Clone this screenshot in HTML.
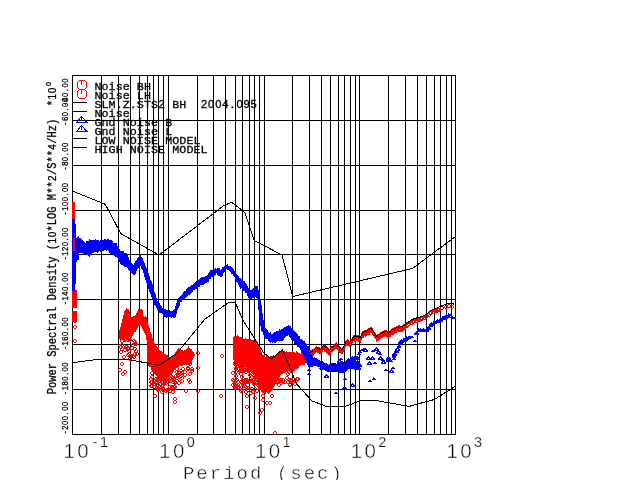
<!DOCTYPE html>
<html><head><meta charset="utf-8"><title>Noise spectra</title>
<style>html,body{margin:0;padding:0;background:#fff;overflow:hidden}svg{display:block}</style></head>
<body>
<svg width="640" height="480" viewBox="0 0 640 480" shape-rendering="crispEdges">
<rect x="0" y="0" width="640" height="480" fill="#fff"/>
<path d="M72.5 75V435M101.5 75V435M118.5 75V435M130.5 75V435M139.5 75V435M147.5 75V435M153.5 75V435M158.5 75V435M163.5 75V435M168.5 75V435M197.5 75V435M213.5 75V435M225.5 75V435M235.5 75V435M242.5 75V435M249.5 75V435M254.5 75V435M259.5 75V435M264.5 75V435M292.5 75V435M309.5 75V435M321.5 75V435M330.5 75V435M338.5 75V435M344.5 75V435M350.5 75V435M355.5 75V435M359.5 75V435M388.5 75V435M405.5 75V435M417.5 75V435M426.5 75V435M434.5 75V435M440.5 75V435M446.5 75V435M451.5 75V435M455.5 75V435M72 75.5H456M72 120.5H456M72 165.5H456M72 210.5H456M72 254.5H456M72 299.5H456M72 344.5H456M72 389.5H456M72 434.5H456" stroke="#000" stroke-width="1" fill="none"/>
<defs><path id="c" d="M-1 -2h2v1h1v2h-1v1h-2v-1h-1v-2h1z M-1 -1v2h2v-2z" fill="#ff0000" fill-rule="evenodd"/><path id="t" d="M0 -2h1v1h1v1h1v2h-5v-2h1v-1h1z M0 0v1h1v-1z" fill="#0000ff" fill-rule="evenodd"/><path id="u" d="M0 -2h1v1h1v1h1v1h-4v-1h1v-1h1z" fill="#0000ff"/></defs>
<g><rect x="72" y="202" width="3" height="18" fill="#ff0000"/><rect x="72" y="290" width="5" height="18" fill="#ff0000"/><rect x="72" y="311" width="5" height="11" fill="#ff0000"/><use href="#c" x="74.5" y="321.0"/><use href="#c" x="74.5" y="327.0"/><use href="#c" x="74.5" y="340.5"/><path d="M119 330h1v8h-1zM120 327h1v11h-1zM121 323h1v16h-1zM122 319h1v18h-1zM123 315h1v23h-1zM124 311h1v27h-1zM125 310h1v28h-1zM126 308h1v30h-1zM127 309h1v29h-1zM128 309h1v29h-1zM129 311h1v26h-1zM130 316h1v22h-1zM131 317h1v21h-1zM132 317h1v19h-1zM133 316h1v18h-1zM134 316h1v16h-1zM135 315h1v17h-1zM136 313h1v17h-1zM137 311h1v17h-1zM138 309h1v17h-1zM139 309h1v17h-1z" fill="#ff0000"/><path d="M139 309h1v14h-1zM140 309h1v16h-1zM141 309h1v18h-1zM142 310h1v19h-1zM143 316h1v15h-1zM144 317h1v16h-1zM145 316h1v19h-1zM146 317h1v23h-1zM147 321h1v43h-1zM148 325h1v40h-1zM149 328h1v38h-1zM150 332h1v35h-1zM151 334h1v36h-1zM152 338h1v32h-1zM153 340h1v32h-1zM154 343h1v31h-1zM155 345h1v30h-1zM156 346h1v30h-1zM157 347h1v30h-1zM158 347h1v31h-1zM159 350h1v29h-1zM160 351h1v29h-1zM161 351h1v29h-1zM162 352h1v29h-1zM163 353h1v29h-1zM164 354h1v26h-1zM165 354h1v27h-1zM166 355h1v24h-1zM167 355h1v23h-1zM168 357h1v22h-1zM169 357h1v20h-1zM170 357h1v18h-1zM171 356h1v19h-1zM172 355h1v18h-1zM173 356h1v16h-1zM174 354h1v16h-1zM175 352h1v16h-1zM176 351h1v17h-1zM177 349h1v17h-1zM178 348h1v18h-1zM179 349h1v16h-1zM180 350h1v16h-1zM181 350h1v16h-1zM182 350h1v16h-1zM183 351h1v14h-1zM184 350h1v15h-1zM185 350h1v15h-1zM186 349h1v16h-1zM187 348h1v17h-1zM188 346h1v19h-1zM189 348h1v15h-1zM190 349h1v14h-1zM191 349h1v13h-1zM192 351h1v9h-1zM193 352h1v6h-1z" fill="#ff0000"/><use href="#c" x="129.4" y="350.7"/><use href="#c" x="122.1" y="338.2"/><use href="#c" x="127.8" y="349.2"/><use href="#c" x="131.5" y="347.8"/><use href="#c" x="129.5" y="339.5"/><use href="#c" x="124.8" y="350.3"/><use href="#c" x="125.2" y="338.5"/><use href="#c" x="135.3" y="354.1"/><use href="#c" x="121.6" y="349.3"/><use href="#c" x="126.1" y="338.6"/><use href="#c" x="128.0" y="339.7"/><use href="#c" x="127.8" y="354.5"/><use href="#c" x="124.8" y="339.9"/><use href="#c" x="123.5" y="338.0"/><use href="#c" x="121.5" y="345.1"/><use href="#c" x="125.8" y="347.3"/><use href="#c" x="124.1" y="357.3"/><use href="#c" x="128.1" y="347.9"/><use href="#c" x="121.2" y="338.0"/><use href="#c" x="121.7" y="336.2"/><use href="#c" x="129.2" y="350.7"/><use href="#c" x="131.2" y="355.8"/><use href="#c" x="126.2" y="346.8"/><use href="#c" x="136.5" y="354.3"/><use href="#c" x="133.4" y="345.1"/><use href="#c" x="123.7" y="337.4"/><use href="#c" x="135.2" y="349.0"/><use href="#c" x="136.3" y="343.9"/><use href="#c" x="135.2" y="341.5"/><use href="#c" x="122.4" y="340.8"/><use href="#c" x="133.6" y="357.3"/><use href="#c" x="136.4" y="350.5"/><use href="#c" x="134.4" y="340.9"/><use href="#c" x="127.3" y="346.5"/><use href="#c" x="120.9" y="351.6"/><use href="#c" x="128.5" y="353.7"/><use href="#c" x="135.0" y="344.1"/><use href="#c" x="121.3" y="346.5"/><use href="#c" x="157.9" y="378.5"/><use href="#c" x="171.4" y="380.5"/><use href="#c" x="176.7" y="371.8"/><use href="#c" x="176.6" y="365.6"/><use href="#c" x="161.8" y="386.4"/><use href="#c" x="156.6" y="372.6"/><use href="#c" x="160.4" y="381.1"/><use href="#c" x="150.0" y="358.1"/><use href="#c" x="169.8" y="372.5"/><use href="#c" x="179.2" y="383.4"/><use href="#c" x="174.9" y="381.8"/><use href="#c" x="166.8" y="371.2"/><use href="#c" x="168.9" y="377.1"/><use href="#c" x="175.7" y="365.9"/><use href="#c" x="159.8" y="386.8"/><use href="#c" x="161.4" y="379.7"/><use href="#c" x="190.2" y="363.8"/><use href="#c" x="156.2" y="383.1"/><use href="#c" x="174.4" y="379.8"/><use href="#c" x="151.8" y="372.5"/><use href="#c" x="150.2" y="365.4"/><use href="#c" x="180.4" y="358.9"/><use href="#c" x="162.7" y="389.8"/><use href="#c" x="191.8" y="371.0"/><use href="#c" x="181.6" y="377.7"/><use href="#c" x="170.0" y="387.0"/><use href="#c" x="157.4" y="386.4"/><use href="#c" x="151.8" y="386.0"/><use href="#c" x="179.1" y="372.3"/><use href="#c" x="178.9" y="372.9"/><use href="#c" x="183.5" y="359.8"/><use href="#c" x="171.9" y="387.0"/><use href="#c" x="189.9" y="361.9"/><use href="#c" x="160.8" y="388.3"/><use href="#c" x="164.9" y="372.1"/><use href="#c" x="180.7" y="370.5"/><use href="#c" x="181.6" y="372.5"/><use href="#c" x="171.5" y="376.7"/><use href="#c" x="162.5" y="388.2"/><use href="#c" x="178.8" y="383.3"/><use href="#c" x="188.5" y="363.3"/><use href="#c" x="171.8" y="380.0"/><use href="#c" x="154.9" y="384.0"/><use href="#c" x="157.4" y="380.2"/><use href="#c" x="155.4" y="367.5"/><use href="#c" x="176.2" y="375.5"/><use href="#c" x="179.0" y="383.3"/><use href="#c" x="192.3" y="356.3"/><use href="#c" x="177.1" y="377.5"/><use href="#c" x="178.0" y="376.0"/><use href="#c" x="174.0" y="386.6"/><use href="#c" x="169.4" y="380.3"/><use href="#c" x="179.7" y="360.3"/><use href="#c" x="168.6" y="371.7"/><use href="#c" x="155.9" y="366.5"/><use href="#c" x="159.0" y="375.5"/><use href="#c" x="172.2" y="379.8"/><use href="#c" x="185.4" y="372.2"/><use href="#c" x="188.3" y="368.5"/><use href="#c" x="182.0" y="375.0"/><use href="#c" x="176.8" y="368.7"/><use href="#c" x="190.3" y="381.7"/><use href="#c" x="156.3" y="379.4"/><use href="#c" x="192.8" y="354.9"/><use href="#c" x="163.0" y="385.3"/><use href="#c" x="151.7" y="382.3"/><use href="#c" x="174.7" y="382.9"/><use href="#c" x="173.7" y="388.5"/><use href="#c" x="164.9" y="381.9"/><use href="#c" x="152.2" y="376.8"/><use href="#c" x="168.0" y="389.7"/><use href="#c" x="190.7" y="358.7"/><use href="#c" x="151.8" y="363.5"/><use href="#c" x="158.3" y="384.6"/><use href="#c" x="173.4" y="378.3"/><use href="#c" x="170.0" y="369.2"/><use href="#c" x="166.9" y="390.0"/><use href="#c" x="185.3" y="375.2"/><use href="#c" x="158.4" y="388.5"/><use href="#c" x="168.2" y="382.3"/><use href="#c" x="158.7" y="377.2"/><use href="#c" x="164.8" y="378.5"/><use href="#c" x="151.0" y="379.3"/><use href="#c" x="157.3" y="381.5"/><use href="#c" x="176.6" y="381.2"/><use href="#c" x="162.6" y="377.2"/><use href="#c" x="182.5" y="369.3"/><use href="#c" x="156.6" y="387.9"/><use href="#c" x="150.6" y="386.4"/><use href="#c" x="162.6" y="378.9"/><use href="#c" x="192.1" y="369.3"/><use href="#c" x="180.8" y="370.5"/><use href="#c" x="189.3" y="379.9"/><use href="#c" x="170.7" y="370.0"/><use href="#c" x="165.6" y="380.2"/><use href="#c" x="162.2" y="381.7"/><use href="#c" x="159.0" y="380.6"/><use href="#c" x="172.7" y="382.1"/><use href="#c" x="182.1" y="380.9"/><use href="#c" x="168.2" y="379.0"/><use href="#c" x="187.6" y="367.5"/><use href="#c" x="189.8" y="373.8"/><use href="#c" x="163.1" y="383.1"/><use href="#c" x="179.4" y="374.7"/><use href="#c" x="164.7" y="379.7"/><use href="#c" x="153.5" y="370.6"/><use href="#c" x="156.2" y="382.3"/><use href="#c" x="191.2" y="359.3"/><use href="#c" x="151.2" y="382.0"/><use href="#c" x="165.2" y="380.6"/><use href="#c" x="152.6" y="366.3"/><use href="#c" x="179.9" y="377.0"/><use href="#c" x="165.5" y="382.7"/><use href="#c" x="169.3" y="379.8"/><use href="#c" x="166.8" y="389.6"/><use href="#c" x="176.8" y="365.0"/><use href="#c" x="121.7" y="364.0"/><use href="#c" x="120.0" y="370.0"/><use href="#c" x="125.0" y="372.0"/><use href="#c" x="122.5" y="374.0"/><use href="#c" x="133.4" y="355.6"/><use href="#c" x="129.5" y="359.0"/><use href="#c" x="154.5" y="387.0"/><use href="#c" x="155.0" y="395.5"/><use href="#c" x="157.6" y="390.0"/><use href="#c" x="161.5" y="392.0"/><use href="#c" x="166.0" y="391.0"/><use href="#c" x="170.0" y="391.0"/><use href="#c" x="172.5" y="391.5"/><use href="#c" x="175.0" y="387.0"/><use href="#c" x="175.0" y="398.6"/><use href="#c" x="175.0" y="401.7"/><use href="#c" x="185.8" y="390.8"/><use href="#c" x="197.5" y="390.8"/><use href="#c" x="197.5" y="352.5"/><use href="#c" x="197.5" y="368.0"/><use href="#c" x="221.0" y="395.6"/><path d="M233 337h1v23h-1zM234 336h1v25h-1zM235 336h1v25h-1zM236 336h1v25h-1zM237 335h1v27h-1zM238 336h1v27h-1zM239 337h1v28h-1zM240 337h1v28h-1zM241 337h1v28h-1zM242 338h1v29h-1zM243 339h1v28h-1zM244 339h1v29h-1zM245 338h1v29h-1zM246 339h1v29h-1zM247 339h1v30h-1zM248 339h1v32h-1zM249 339h1v31h-1zM250 339h1v32h-1zM251 340h1v32h-1zM252 340h1v32h-1zM253 340h1v33h-1zM254 341h1v32h-1zM255 341h1v34h-1zM256 341h1v35h-1zM257 342h1v41h-1zM258 344h1v46h-1zM259 346h1v44h-1zM260 348h1v42h-1zM261 352h1v40h-1zM262 355h1v38h-1zM263 355h1v38h-1zM264 355h1v38h-1zM265 357h1v37h-1zM266 356h1v36h-1zM267 356h1v37h-1zM268 356h1v38h-1zM269 357h1v36h-1zM270 356h1v36h-1zM271 356h1v35h-1zM272 356h1v34h-1zM273 355h1v33h-1zM274 356h1v30h-1zM275 355h1v29h-1zM276 354h1v26h-1zM277 353h1v26h-1zM278 353h1v24h-1zM279 352h1v25h-1zM280 351h1v24h-1zM281 351h1v23h-1zM282 351h1v23h-1zM283 351h1v22h-1zM284 351h1v22h-1zM285 352h1v20h-1zM286 351h1v21h-1zM287 352h1v21h-1zM288 352h1v19h-1zM289 352h1v19h-1zM290 352h1v20h-1zM291 352h1v20h-1zM292 351h1v21h-1zM293 352h1v19h-1zM294 352h1v19h-1zM295 353h1v16h-1zM296 351h1v18h-1zM297 352h1v17h-1zM298 353h1v15h-1zM299 353h1v13h-1zM300 354h1v12h-1zM301 352h1v13h-1zM302 354h1v11h-1zM303 354h1v11h-1zM304 354h1v11h-1zM305 355h1v8h-1zM306 355h1v6h-1z" fill="#ff0000"/><use href="#c" x="256.3" y="377.0"/><use href="#c" x="233.4" y="385.4"/><use href="#c" x="257.2" y="383.0"/><use href="#c" x="244.2" y="370.9"/><use href="#c" x="252.4" y="361.7"/><use href="#c" x="253.4" y="375.0"/><use href="#c" x="234.8" y="386.0"/><use href="#c" x="243.2" y="361.6"/><use href="#c" x="237.5" y="387.2"/><use href="#c" x="237.5" y="384.7"/><use href="#c" x="253.9" y="360.9"/><use href="#c" x="244.3" y="384.8"/><use href="#c" x="245.7" y="387.4"/><use href="#c" x="242.9" y="379.4"/><use href="#c" x="238.6" y="386.6"/><use href="#c" x="254.8" y="377.2"/><use href="#c" x="241.4" y="369.8"/><use href="#c" x="248.5" y="362.4"/><use href="#c" x="246.3" y="368.0"/><use href="#c" x="241.9" y="368.9"/><use href="#c" x="254.7" y="364.0"/><use href="#c" x="239.1" y="363.6"/><use href="#c" x="233.4" y="372.5"/><use href="#c" x="254.9" y="388.7"/><use href="#c" x="245.7" y="372.3"/><use href="#c" x="255.6" y="376.0"/><use href="#c" x="247.3" y="380.1"/><use href="#c" x="235.1" y="386.5"/><use href="#c" x="235.7" y="376.1"/><use href="#c" x="257.1" y="376.7"/><use href="#c" x="241.9" y="382.7"/><use href="#c" x="256.4" y="379.0"/><use href="#c" x="234.5" y="387.9"/><use href="#c" x="233.5" y="381.1"/><use href="#c" x="256.4" y="363.4"/><use href="#c" x="246.7" y="382.0"/><use href="#c" x="237.6" y="366.3"/><use href="#c" x="234.7" y="363.4"/><use href="#c" x="236.1" y="367.9"/><use href="#c" x="252.5" y="381.6"/><use href="#c" x="252.8" y="380.4"/><use href="#c" x="253.7" y="363.1"/><use href="#c" x="247.4" y="358.7"/><use href="#c" x="245.8" y="386.7"/><use href="#c" x="245.3" y="368.0"/><use href="#c" x="240.1" y="371.4"/><use href="#c" x="256.8" y="391.1"/><use href="#c" x="252.5" y="391.6"/><use href="#c" x="252.8" y="367.7"/><use href="#c" x="244.3" y="382.6"/><use href="#c" x="251.4" y="381.1"/><use href="#c" x="245.7" y="362.9"/><use href="#c" x="258.0" y="365.5"/><use href="#c" x="258.5" y="362.3"/><use href="#c" x="258.5" y="370.8"/><use href="#c" x="254.1" y="358.2"/><use href="#c" x="244.6" y="366.5"/><use href="#c" x="251.1" y="380.5"/><use href="#c" x="245.0" y="382.0"/><use href="#c" x="258.4" y="361.2"/><use href="#c" x="247.6" y="381.0"/><use href="#c" x="249.5" y="366.9"/><use href="#c" x="255.7" y="366.3"/><use href="#c" x="255.0" y="374.0"/><use href="#c" x="236.7" y="386.0"/><use href="#c" x="235.0" y="385.0"/><use href="#c" x="248.6" y="387.8"/><use href="#c" x="253.9" y="371.7"/><use href="#c" x="236.5" y="367.1"/><use href="#c" x="233.0" y="380.2"/><use href="#c" x="235.2" y="364.1"/><use href="#c" x="239.4" y="371.8"/><use href="#c" x="250.9" y="373.1"/><use href="#c" x="246.1" y="361.2"/><use href="#c" x="241.8" y="365.0"/><use href="#c" x="252.2" y="358.6"/><use href="#c" x="249.0" y="381.7"/><use href="#c" x="246.1" y="359.5"/><use href="#c" x="239.5" y="366.1"/><use href="#c" x="240.0" y="366.9"/><use href="#c" x="258.3" y="384.9"/><use href="#c" x="256.2" y="382.3"/><use href="#c" x="242.0" y="390.0"/><use href="#c" x="245.6" y="364.3"/><use href="#c" x="252.0" y="366.8"/><use href="#c" x="254.4" y="383.2"/><use href="#c" x="240.5" y="373.6"/><use href="#c" x="251.6" y="380.7"/><use href="#c" x="246.7" y="365.3"/><use href="#c" x="241.4" y="381.6"/><use href="#c" x="244.9" y="382.4"/><use href="#c" x="250.8" y="370.1"/><use href="#c" x="235.6" y="381.1"/><use href="#c" x="242.2" y="377.2"/><use href="#c" x="236.2" y="363.0"/><use href="#c" x="244.0" y="380.8"/><use href="#c" x="236.1" y="384.3"/><use href="#c" x="255.1" y="380.9"/><use href="#c" x="252.5" y="366.1"/><use href="#c" x="235.6" y="369.2"/><use href="#c" x="236.3" y="372.2"/><use href="#c" x="252.8" y="367.6"/><use href="#c" x="255.3" y="373.4"/><use href="#c" x="237.2" y="379.8"/><use href="#c" x="244.4" y="369.2"/><use href="#c" x="246.4" y="391.7"/><use href="#c" x="252.5" y="368.0"/><use href="#c" x="257.1" y="364.3"/><use href="#c" x="243.6" y="370.7"/><use href="#c" x="258.6" y="358.2"/><use href="#c" x="249.9" y="375.3"/><use href="#c" x="237.1" y="379.8"/><use href="#c" x="254.0" y="384.1"/><use href="#c" x="235.0" y="385.0"/><use href="#c" x="242.0" y="387.0"/><use href="#c" x="247.6" y="360.7"/><use href="#c" x="252.4" y="377.2"/><use href="#c" x="244.7" y="379.7"/><use href="#c" x="244.5" y="359.3"/><use href="#c" x="256.7" y="367.8"/><use href="#c" x="240.3" y="359.7"/><use href="#c" x="251.7" y="388.9"/><use href="#c" x="245.0" y="385.7"/><use href="#c" x="241.5" y="371.1"/><use href="#c" x="240.6" y="368.0"/><use href="#c" x="247.6" y="369.1"/><use href="#c" x="234.7" y="381.5"/><use href="#c" x="241.0" y="371.3"/><use href="#c" x="237.8" y="359.7"/><use href="#c" x="250.0" y="372.4"/><use href="#c" x="257.2" y="358.6"/><use href="#c" x="254.4" y="358.6"/><use href="#c" x="237.5" y="358.5"/><use href="#c" x="246.2" y="370.0"/><use href="#c" x="241.3" y="391.1"/><use href="#c" x="248.0" y="389.5"/><use href="#c" x="256.1" y="369.5"/><use href="#c" x="250.0" y="364.6"/><use href="#c" x="242.5" y="381.3"/><use href="#c" x="247.8" y="360.9"/><use href="#c" x="277.7" y="382.3"/><use href="#c" x="291.4" y="380.4"/><use href="#c" x="280.9" y="382.5"/><use href="#c" x="288.7" y="372.4"/><use href="#c" x="279.7" y="379.9"/><use href="#c" x="297.5" y="379.4"/><use href="#c" x="282.5" y="381.5"/><use href="#c" x="280.5" y="380.3"/><use href="#c" x="285.1" y="370.5"/><use href="#c" x="287.4" y="378.1"/><use href="#c" x="296.1" y="381.4"/><use href="#c" x="282.7" y="380.3"/><use href="#c" x="281.5" y="380.5"/><use href="#c" x="289.2" y="379.8"/><use href="#c" x="279.5" y="381.4"/><use href="#c" x="287.8" y="381.9"/><use href="#c" x="277.0" y="381.7"/><use href="#c" x="296.9" y="379.4"/><use href="#c" x="279.1" y="384.8"/><use href="#c" x="288.2" y="374.4"/><use href="#c" x="289.7" y="383.7"/><use href="#c" x="278.4" y="379.0"/><use href="#c" x="289.9" y="384.8"/><use href="#c" x="276.8" y="378.1"/><use href="#c" x="292.1" y="380.6"/><use href="#c" x="247.0" y="396.4"/><use href="#c" x="250.8" y="392.5"/><use href="#c" x="254.7" y="398.0"/><use href="#c" x="247.0" y="407.0"/><use href="#c" x="262.5" y="396.4"/><use href="#c" x="263.0" y="400.0"/><use href="#c" x="267.0" y="402.6"/><use href="#c" x="269.5" y="403.4"/><use href="#c" x="272.0" y="396.4"/><use href="#c" x="261.7" y="409.7"/><use href="#c" x="260.0" y="413.0"/><use href="#c" x="275.0" y="432.8"/><use href="#c" x="285.0" y="381.5"/><use href="#c" x="294.5" y="384.0"/><use href="#c" x="222.0" y="356.0"/></g>
<path d="M308 351h1v7h-1zM309 350h1v8h-1zM310 350h1v7h-1zM311 350h1v7h-1zM312 349h1v7h-1zM313 349h1v7h-1zM314 348h1v6h-1zM315 347h1v6h-1zM316 346h1v6h-1zM317 347h1v6h-1zM318 347h1v6h-1zM319 347h1v7h-1zM320 348h1v6h-1zM321 346h1v8h-1zM322 346h1v6h-1zM323 344h1v6h-1zM324 345h1v7h-1zM325 345h1v7h-1zM326 346h1v7h-1zM327 347h1v7h-1zM328 348h1v7h-1zM329 349h1v7h-1zM330 347h1v7h-1zM331 346h1v6h-1zM332 346h1v6h-1zM333 345h1v6h-1zM334 344h1v6h-1zM335 343h1v6h-1zM336 342h1v7h-1zM337 344h1v6h-1zM338 345h1v7h-1zM339 346h1v7h-1zM340 347h1v6h-1zM341 348h1v6h-1zM342 347h1v7h-1zM343 346h1v6h-1zM344 343h1v7h-1zM345 341h1v6h-1zM346 340h1v6h-1zM347 339h1v7h-1zM348 340h1v6h-1zM349 341h1v6h-1zM350 340h1v6h-1zM351 339h1v7h-1zM352 337h1v6h-1zM353 335h1v6h-1zM354 335h1v7h-1zM355 335h1v6h-1zM356 335h1v6h-1zM357 335h1v6h-1zM358 335h1v7h-1zM359 335h1v7h-1zM360 336h1v7h-1zM361 333h1v7h-1zM362 331h1v7h-1zM363 331h1v7h-1zM364 330h1v6h-1zM365 330h1v7h-1zM366 330h1v6h-1zM367 329h1v6h-1zM368 328h1v7h-1zM369 328h1v7h-1zM370 327h1v6h-1zM371 327h1v6h-1zM372 328h1v7h-1zM373 330h1v6h-1zM374 332h1v6h-1zM375 333h1v6h-1zM376 335h1v7h-1zM377 334h1v7h-1zM378 334h1v7h-1zM379 333h1v7h-1zM380 332h1v7h-1zM381 332h1v6h-1zM382 331h1v7h-1zM383 331h1v6h-1zM384 330h1v7h-1zM385 330h1v6h-1zM386 330h1v7h-1zM387 331h1v7h-1zM388 331h1v7h-1zM389 331h1v6h-1zM390 330h1v7h-1zM391 329h1v6h-1zM392 328h1v7h-1zM393 328h1v7h-1zM394 327h1v7h-1zM395 327h1v6h-1zM396 326h1v7h-1zM397 326h1v6h-1zM398 325h1v7h-1zM399 325h1v7h-1zM400 326h1v6h-1zM401 326h1v6h-1zM402 325h1v7h-1zM403 324h1v7h-1zM404 324h1v6h-1zM405 323h1v7h-1zM406 322h1v6h-1z" fill="#ff0000"/>
<use href="#c" x="404.0" y="327.9"/><use href="#c" x="405.3" y="326.9"/><use href="#c" x="406.6" y="325.9"/><use href="#c" x="407.9" y="325.0"/><use href="#c" x="409.2" y="324.0"/><use href="#c" x="410.5" y="323.1"/><use href="#c" x="411.8" y="322.5"/><use href="#c" x="413.1" y="321.8"/><use href="#c" x="414.4" y="321.3"/><use href="#c" x="415.7" y="321.0"/><use href="#c" x="417.0" y="320.6"/><use href="#c" x="418.3" y="320.3"/><use href="#c" x="419.6" y="319.8"/><use href="#c" x="420.9" y="319.4"/><use href="#c" x="422.2" y="318.9"/><use href="#c" x="423.5" y="318.3"/><use href="#c" x="424.8" y="317.7"/><use href="#c" x="426.1" y="317.1"/><use href="#c" x="427.4" y="315.8"/><use href="#c" x="428.7" y="314.6"/><use href="#c" x="430.0" y="313.4"/><use href="#c" x="431.3" y="312.9"/><use href="#c" x="432.6" y="312.4"/><use href="#c" x="433.9" y="311.8"/><use href="#c" x="435.2" y="311.3"/><use href="#c" x="436.5" y="310.8"/><use href="#c" x="437.8" y="310.3"/><use href="#c" x="439.1" y="309.8"/><use href="#c" x="442.4" y="308.3"/><use href="#c" x="445.7" y="306.9"/><use href="#c" x="449.0" y="305.9"/><use href="#c" x="452.3" y="306.6"/>
<polyline points="308.5,352.5 310.5,352.0 313.5,350.5 316.5,347.5 318.5,348.5 320.5,349.5 323.5,345.5 325.5,347.0 327.5,348.5 329.5,350.5 331.5,347.5 334.5,345.5 336.5,343.5 338.5,346.5 341.5,349.5 343.5,347.5 345.5,342.5 347.5,340.5 349.5,342.5 351.5,340.5 353.5,336.5 355.5,336.0 358.5,336.5 360.5,337.5 362.5,332.5 365.5,331.5 368.5,329.5 371.5,328.5 373.5,331.5 375.5,334.5 376.5,336.5 378.5,335.5 380.5,333.5 385.5,331.1 388.5,333.0 392.5,329.5 397.5,327.5 402.5,326.5 406.5,323.5 410.5,320.5 414.5,318.5 418.5,317.5 422.5,316.1 426.5,314.25 430.5,310.5 435.5,308.5 440.5,306.5 445.5,304.25 448.5,303.0 451.5,303.0 454.5,304.5" fill="none" stroke="#000" stroke-width="1"/>
<rect x="72" y="219" width="3" height="72" fill="#0000ff"/><rect x="75" y="224" width="1" height="60" fill="#0000ff"/>
<path d="M76 238h1v24h-1zM77 237h1v23h-1zM78 236h1v24h-1zM79 238h1v15h-1zM80 238h1v15h-1zM81 239h1v14h-1zM82 240h1v13h-1zM83 241h1v13h-1zM84 242h1v12h-1zM85 243h1v11h-1zM86 241h1v14h-1zM87 241h1v14h-1zM88 241h1v15h-1zM89 239h1v18h-1zM90 240h1v15h-1zM91 240h1v15h-1zM92 240h1v13h-1zM93 240h1v13h-1zM94 240h1v12h-1zM95 239h1v13h-1zM96 240h1v12h-1zM97 240h1v13h-1zM98 240h1v12h-1zM99 241h1v10h-1zM100 240h1v12h-1zM101 241h1v10h-1zM102 240h1v11h-1zM103 240h1v11h-1zM104 239h1v11h-1zM105 239h1v11h-1zM106 240h1v11h-1zM107 239h1v11h-1zM108 239h1v12h-1zM109 240h1v13h-1zM110 240h1v14h-1zM111 240h1v15h-1zM112 241h1v14h-1zM113 243h1v12h-1zM114 243h1v13h-1zM115 243h1v14h-1zM116 243h1v14h-1zM117 246h1v12h-1zM118 247h1v13h-1zM119 249h1v13h-1zM120 251h1v13h-1zM121 251h1v14h-1zM122 251h1v14h-1zM123 251h1v15h-1zM124 253h1v14h-1zM125 253h1v14h-1zM126 253h1v14h-1zM127 254h1v14h-1zM128 257h1v13h-1zM129 260h1v11h-1zM130 262h1v9h-1zM131 263h1v10h-1zM132 264h1v10h-1zM133 265h1v10h-1zM134 263h1v12h-1zM135 261h1v13h-1zM136 260h1v11h-1zM137 258h1v11h-1zM138 257h1v11h-1zM139 255h1v12h-1zM140 255h1v11h-1zM141 257h1v12h-1zM142 258h1v12h-1zM143 261h1v12h-1zM144 263h1v14h-1zM145 266h1v14h-1zM146 268h1v15h-1zM147 271h1v14h-1zM148 273h1v16h-1zM149 276h1v16h-1zM150 280h1v14h-1zM151 281h1v16h-1zM152 284h1v15h-1zM153 288h1v14h-1zM154 292h1v13h-1zM155 294h1v12h-1zM156 298h1v10h-1zM157 301h1v9h-1zM158 302h1v8h-1zM159 303h1v10h-1zM160 305h1v8h-1zM161 306h1v7h-1zM162 308h1v6h-1zM163 308h1v8h-1zM164 309h1v8h-1zM165 309h1v8h-1zM166 310h1v8h-1zM167 310h1v7h-1zM168 311h1v7h-1zM169 310h1v7h-1zM170 311h1v6h-1zM171 311h1v7h-1zM172 311h1v6h-1zM173 310h1v8h-1zM174 309h1v9h-1zM175 306h1v11h-1zM176 303h1v11h-1zM177 300h1v10h-1zM178 298h1v10h-1zM179 297h1v9h-1zM180 296h1v6h-1zM181 295h1v7h-1zM182 294h1v6h-1zM183 292h1v8h-1zM184 291h1v8h-1zM185 291h1v7h-1zM186 289h1v8h-1zM187 288h1v8h-1zM188 287h1v8h-1zM189 287h1v8h-1zM190 286h1v8h-1zM191 285h1v8h-1zM192 285h1v7h-1zM193 284h1v6h-1zM194 283h1v7h-1zM195 282h1v7h-1zM196 281h1v8h-1zM197 280h1v8h-1zM198 280h1v7h-1zM199 279h1v8h-1zM200 278h1v7h-1zM201 277h1v8h-1zM202 277h1v8h-1zM203 277h1v8h-1zM204 277h1v7h-1zM205 276h1v7h-1zM206 276h1v7h-1zM207 275h1v7h-1zM208 273h1v9h-1zM209 272h1v7h-1zM210 270h1v9h-1zM211 270h1v7h-1zM212 270h1v7h-1zM213 270h1v6h-1zM214 269h1v7h-1zM215 268h1v7h-1zM216 269h1v4h-1zM217 268h1v7h-1zM218 268h1v8h-1zM219 268h1v8h-1zM220 270h1v7h-1zM221 269h1v8h-1zM222 267h1v9h-1zM223 267h1v6h-1zM224 266h1v6h-1zM225 265h1v5h-1zM226 265h1v4h-1zM227 264h1v6h-1zM228 266h1v4h-1zM229 266h1v5h-1zM230 266h1v6h-1zM231 267h1v7h-1zM232 268h1v6h-1zM233 269h1v7h-1zM234 271h1v6h-1zM235 272h1v7h-1zM236 274h1v8h-1zM237 275h1v8h-1zM238 276h1v9h-1zM239 278h1v9h-1zM240 278h1v11h-1zM241 279h1v9h-1zM242 280h1v10h-1zM243 281h1v10h-1zM244 281h1v10h-1zM245 283h1v10h-1zM246 284h1v9h-1zM247 286h1v10h-1zM248 288h1v10h-1zM249 289h1v10h-1zM250 290h1v9h-1zM251 290h1v10h-1zM252 289h1v9h-1zM253 288h1v10h-1zM254 287h1v10h-1zM255 286h1v11h-1zM256 286h1v12h-1zM257 286h1v14h-1zM258 290h1v20h-1zM259 292h1v27h-1zM260 299h1v27h-1zM261 305h1v26h-1zM262 313h1v19h-1zM263 320h1v15h-1zM264 326h1v11h-1zM265 328h1v11h-1zM266 329h1v10h-1zM267 330h1v9h-1zM268 332h1v9h-1zM269 333h1v9h-1zM270 332h1v11h-1zM271 334h1v8h-1zM272 334h1v9h-1zM273 333h1v9h-1zM274 332h1v11h-1zM275 332h1v11h-1zM276 331h1v11h-1zM277 331h1v10h-1zM278 331h1v10h-1zM279 329h1v12h-1zM280 330h1v11h-1zM281 329h1v12h-1zM282 329h1v12h-1zM283 328h1v12h-1zM284 327h1v11h-1zM285 327h1v10h-1zM286 326h1v10h-1zM287 326h1v10h-1zM288 325h1v10h-1zM289 326h1v11h-1zM290 326h1v12h-1zM291 328h1v12h-1zM292 329h1v11h-1zM293 330h1v11h-1zM294 331h1v13h-1zM295 332h1v12h-1zM296 333h1v11h-1zM297 334h1v13h-1zM298 336h1v11h-1zM299 336h1v12h-1zM300 339h1v11h-1zM301 339h1v13h-1zM302 340h1v14h-1zM303 341h1v15h-1zM304 341h1v17h-1zM305 343h1v17h-1zM306 344h1v19h-1zM307 346h1v19h-1zM308 346h1v20h-1z" fill="#0000ff"/>
<rect x="73" y="238" width="2" height="13" fill="#ff0000"/>
<g><use href="#t" x="306.5" y="354.6"/><use href="#t" x="306.8" y="360.5"/><use href="#u" x="307.0" y="360.4"/><use href="#t" x="307.3" y="356.1"/><use href="#t" x="307.6" y="356.2"/><use href="#t" x="307.8" y="357.1"/><use href="#t" x="308.1" y="359.5"/><use href="#u" x="308.4" y="357.6"/><use href="#t" x="308.7" y="355.9"/><use href="#u" x="308.9" y="358.9"/><use href="#t" x="309.2" y="357.2"/><use href="#u" x="309.5" y="364.5"/><use href="#t" x="309.7" y="365.1"/><use href="#t" x="310.0" y="356.4"/><use href="#u" x="310.3" y="362.6"/><use href="#u" x="310.5" y="361.5"/><use href="#u" x="310.8" y="364.2"/><use href="#u" x="311.1" y="362.2"/><use href="#u" x="311.4" y="361.3"/><use href="#t" x="311.6" y="362.5"/><use href="#t" x="311.9" y="360.2"/><use href="#u" x="312.2" y="362.4"/><use href="#t" x="312.4" y="363.3"/><use href="#u" x="312.7" y="360.9"/><use href="#u" x="313.0" y="364.2"/><use href="#u" x="313.2" y="363.3"/><use href="#u" x="313.5" y="364.6"/><use href="#t" x="313.8" y="359.3"/><use href="#t" x="314.1" y="361.7"/><use href="#t" x="314.3" y="364.4"/><use href="#t" x="314.6" y="362.6"/><use href="#u" x="314.9" y="364.0"/><use href="#u" x="315.1" y="364.7"/><use href="#t" x="315.4" y="359.9"/><use href="#u" x="315.7" y="360.4"/><use href="#u" x="315.9" y="364.2"/><use href="#u" x="316.2" y="364.6"/><use href="#t" x="316.5" y="363.9"/><use href="#u" x="316.8" y="361.6"/><use href="#u" x="317.0" y="362.5"/><use href="#t" x="317.3" y="363.7"/><use href="#t" x="317.6" y="363.2"/><use href="#u" x="317.8" y="363.2"/><use href="#u" x="318.1" y="363.2"/><use href="#u" x="318.4" y="366.2"/><use href="#u" x="318.6" y="361.9"/><use href="#u" x="318.9" y="365.5"/><use href="#u" x="319.2" y="365.8"/><use href="#u" x="319.5" y="367.5"/><use href="#u" x="319.7" y="361.6"/><use href="#u" x="320.0" y="366.0"/><use href="#u" x="320.3" y="366.1"/><use href="#t" x="320.5" y="365.0"/><use href="#u" x="320.8" y="362.3"/><use href="#t" x="321.1" y="362.3"/><use href="#t" x="321.3" y="363.3"/><use href="#t" x="321.6" y="367.6"/><use href="#u" x="321.9" y="363.5"/><use href="#u" x="322.2" y="363.5"/><use href="#t" x="322.4" y="365.0"/><use href="#u" x="322.7" y="366.0"/><use href="#u" x="323.0" y="367.5"/><use href="#u" x="323.2" y="368.2"/><use href="#t" x="323.5" y="364.9"/><use href="#u" x="323.8" y="369.1"/><use href="#u" x="324.0" y="363.7"/><use href="#u" x="324.3" y="366.0"/><use href="#u" x="324.6" y="365.0"/><use href="#u" x="324.9" y="366.0"/><use href="#u" x="325.1" y="366.7"/><use href="#t" x="325.4" y="367.0"/><use href="#t" x="325.7" y="366.5"/><use href="#u" x="325.9" y="365.4"/><use href="#t" x="326.2" y="365.4"/><use href="#t" x="326.5" y="365.5"/><use href="#t" x="326.7" y="368.5"/><use href="#u" x="327.0" y="366.7"/><use href="#u" x="327.3" y="367.7"/><use href="#u" x="327.6" y="367.2"/><use href="#t" x="327.8" y="366.8"/><use href="#u" x="328.1" y="368.7"/><use href="#t" x="328.4" y="367.6"/><use href="#t" x="328.6" y="366.1"/><use href="#t" x="328.9" y="370.2"/><use href="#u" x="329.2" y="365.7"/><use href="#u" x="329.4" y="365.2"/><use href="#u" x="329.7" y="368.1"/><use href="#u" x="330.0" y="367.4"/><use href="#u" x="330.3" y="365.5"/><use href="#t" x="330.5" y="365.1"/><use href="#t" x="330.8" y="367.7"/><use href="#u" x="331.1" y="366.2"/><use href="#t" x="331.3" y="365.1"/><use href="#u" x="331.6" y="367.4"/><use href="#u" x="331.9" y="368.3"/><use href="#t" x="332.1" y="364.7"/><use href="#u" x="332.4" y="367.5"/><use href="#t" x="332.7" y="365.0"/><use href="#u" x="333.0" y="369.2"/><use href="#t" x="333.2" y="369.0"/><use href="#u" x="333.5" y="366.1"/><use href="#u" x="333.8" y="365.1"/><use href="#t" x="334.0" y="370.0"/><use href="#t" x="334.3" y="367.6"/><use href="#u" x="334.6" y="365.3"/><use href="#u" x="334.8" y="365.2"/><use href="#t" x="335.1" y="369.5"/><use href="#u" x="335.4" y="367.8"/><use href="#t" x="335.7" y="366.1"/><use href="#u" x="335.9" y="368.0"/><use href="#u" x="336.2" y="366.2"/><use href="#u" x="336.5" y="369.3"/><use href="#u" x="336.7" y="367.0"/><use href="#u" x="337.0" y="370.7"/><use href="#u" x="337.3" y="367.0"/><use href="#u" x="337.5" y="370.3"/><use href="#t" x="337.8" y="364.1"/><use href="#u" x="338.1" y="366.6"/><use href="#u" x="338.4" y="366.3"/><use href="#u" x="338.6" y="369.6"/><use href="#t" x="338.9" y="360.9"/><use href="#t" x="339.2" y="369.9"/><use href="#t" x="339.4" y="369.5"/><use href="#u" x="339.7" y="364.2"/><use href="#u" x="340.0" y="358.8"/><use href="#t" x="340.2" y="369.0"/><use href="#u" x="340.5" y="367.7"/><use href="#u" x="340.8" y="371.1"/><use href="#u" x="341.1" y="366.1"/><use href="#t" x="341.3" y="371.4"/><use href="#t" x="341.6" y="363.4"/><use href="#t" x="341.9" y="364.0"/><use href="#u" x="342.1" y="368.3"/><use href="#u" x="342.4" y="368.0"/><use href="#u" x="342.7" y="368.2"/><use href="#t" x="342.9" y="369.6"/><use href="#t" x="343.2" y="368.1"/><use href="#t" x="343.5" y="367.9"/><use href="#t" x="343.8" y="368.8"/><use href="#u" x="344.0" y="367.7"/><use href="#t" x="344.3" y="365.6"/><use href="#t" x="344.6" y="368.2"/><use href="#t" x="344.8" y="364.6"/><use href="#t" x="345.1" y="367.0"/><use href="#u" x="345.4" y="365.7"/><use href="#t" x="345.6" y="364.4"/><use href="#u" x="345.9" y="362.6"/><use href="#t" x="346.2" y="367.3"/><use href="#t" x="346.5" y="361.1"/><use href="#t" x="346.7" y="366.3"/><use href="#t" x="347.0" y="365.1"/><use href="#t" x="347.3" y="363.0"/><use href="#t" x="347.5" y="364.4"/><use href="#u" x="347.8" y="360.8"/><use href="#u" x="348.1" y="365.8"/><use href="#t" x="348.3" y="359.7"/><use href="#u" x="348.6" y="363.3"/><use href="#t" x="348.9" y="362.3"/><use href="#t" x="349.2" y="364.3"/><use href="#t" x="349.4" y="362.5"/><use href="#u" x="349.7" y="366.9"/><use href="#t" x="350.0" y="366.0"/><use href="#t" x="350.2" y="366.5"/><use href="#u" x="350.5" y="358.6"/><use href="#u" x="350.8" y="359.9"/><use href="#u" x="351.0" y="362.8"/><use href="#u" x="351.3" y="365.2"/><use href="#t" x="351.6" y="361.6"/><use href="#u" x="351.9" y="363.6"/><use href="#t" x="352.1" y="358.4"/><use href="#u" x="352.4" y="364.5"/><use href="#u" x="352.7" y="364.9"/><use href="#u" x="352.9" y="361.9"/><use href="#t" x="353.2" y="358.9"/><use href="#u" x="353.5" y="362.0"/><use href="#t" x="353.7" y="365.8"/><use href="#t" x="354.0" y="364.0"/><use href="#u" x="354.3" y="367.7"/><use href="#t" x="354.6" y="364.0"/><use href="#u" x="354.8" y="358.9"/><use href="#u" x="355.1" y="364.2"/><use href="#u" x="355.4" y="357.2"/><use href="#t" x="355.6" y="366.0"/><use href="#u" x="355.9" y="359.1"/><use href="#t" x="356.2" y="367.9"/><use href="#u" x="356.4" y="362.4"/><use href="#t" x="356.7" y="362.0"/><use href="#u" x="357.0" y="358.2"/><use href="#u" x="357.3" y="366.4"/><use href="#t" x="357.5" y="367.6"/><use href="#u" x="357.8" y="364.9"/><use href="#t" x="358.1" y="364.5"/><use href="#u" x="358.3" y="365.0"/><use href="#u" x="358.6" y="365.4"/><use href="#t" x="358.9" y="365.1"/><use href="#u" x="359.0" y="352.0"/><use href="#u" x="361.0" y="350.0"/><use href="#u" x="363.0" y="349.0"/><use href="#t" x="365.0" y="350.0"/><use href="#u" x="358.0" y="354.0"/><use href="#t" x="355.0" y="357.0"/><use href="#u" x="372.0" y="351.0"/><use href="#t" x="375.6" y="349.0"/><use href="#t" x="378.0" y="352.0"/><use href="#u" x="379.4" y="354.0"/><use href="#t" x="367.5" y="358.0"/><use href="#t" x="372.0" y="358.0"/><use href="#t" x="369.0" y="363.0"/><use href="#u" x="374.0" y="363.0"/><use href="#t" x="380.0" y="358.0"/><use href="#u" x="382.0" y="360.0"/><use href="#t" x="383.0" y="362.0"/><use href="#t" x="387.5" y="358.0"/><use href="#t" x="388.0" y="360.0"/><use href="#u" x="390.0" y="361.0"/><use href="#u" x="393.0" y="359.0"/><use href="#u" x="385.0" y="370.0"/><use href="#u" x="392.0" y="368.0"/><use href="#t" x="391.0" y="371.0"/><use href="#u" x="369.4" y="380.6"/><use href="#u" x="372.5" y="379.0"/><use href="#t" x="352.0" y="385.0"/><use href="#t" x="394.0" y="354.0"/><use href="#t" x="395.6" y="351.0"/><use href="#t" x="397.0" y="349.0"/><use href="#u" x="398.0" y="346.0"/><use href="#u" x="399.4" y="344.0"/><use href="#t" x="401.0" y="341.0"/><use href="#t" x="404.0" y="340.0"/><use href="#t" x="406.0" y="338.0"/><use href="#u" x="409.0" y="337.0"/><use href="#u" x="411.0" y="336.5"/><use href="#u" x="414.0" y="341.0"/><use href="#t" x="416.0" y="333.0"/><use href="#u" x="418.0" y="330.6"/><use href="#u" x="420.0" y="330.0"/><use href="#u" x="423.0" y="330.0"/><use href="#t" x="426.0" y="330.0"/><use href="#u" x="428.0" y="327.5"/><use href="#t" x="431.0" y="324.0"/><use href="#u" x="434.0" y="322.5"/><use href="#u" x="437.0" y="321.0"/><use href="#t" x="440.0" y="320.0"/><use href="#t" x="443.0" y="317.5"/><use href="#t" x="446.0" y="316.0"/><use href="#u" x="448.0" y="315.0"/><use href="#u" x="451.0" y="317.0"/><use href="#u" x="453.0" y="317.5"/><use href="#u" x="334.5" y="392.5"/><use href="#t" x="344.0" y="387.5"/><use href="#u" x="308.0" y="374.0"/><use href="#t" x="326.0" y="376.0"/><use href="#u" x="344.0" y="379.0"/><use href="#u" x="308.0" y="370.0"/><use href="#u" x="392.5" y="357.2"/><use href="#u" x="393.2" y="355.9"/><use href="#u" x="394.0" y="354.3"/><use href="#u" x="394.8" y="352.1"/><use href="#u" x="395.6" y="350.7"/><use href="#t" x="397.0" y="349.2"/><use href="#u" x="397.5" y="347.1"/><use href="#u" x="398.0" y="345.8"/><use href="#u" x="399.4" y="344.3"/><use href="#t" x="400.2" y="342.4"/><use href="#u" x="401.0" y="341.3"/><use href="#u" x="402.5" y="340.3"/><use href="#t" x="404.0" y="339.9"/><use href="#t" x="405.0" y="338.7"/><use href="#u" x="406.0" y="338.3"/><use href="#u" x="407.5" y="337.8"/><use href="#u" x="409.0" y="336.7"/><use href="#u" x="415.5" y="333.8"/><use href="#t" x="416.0" y="333.1"/><use href="#u" x="418.0" y="330.3"/><use href="#t" x="420.0" y="329.6"/><use href="#t" x="423.0" y="329.9"/><use href="#u" x="426.0" y="329.9"/><use href="#u" x="427.0" y="328.8"/><use href="#t" x="428.0" y="327.5"/><use href="#u" x="429.5" y="325.6"/><use href="#u" x="431.0" y="323.9"/><use href="#u" x="432.5" y="323.1"/><use href="#u" x="434.0" y="322.3"/><use href="#u" x="435.5" y="322.0"/><use href="#t" x="437.0" y="320.7"/><use href="#u" x="440.0" y="320.0"/><use href="#u" x="441.5" y="318.4"/><use href="#t" x="443.0" y="317.8"/><use href="#t" x="444.5" y="317.0"/><use href="#t" x="446.0" y="315.7"/><use href="#u" x="448.0" y="315.2"/><use href="#t" x="449.5" y="316.3"/><use href="#u" x="451.0" y="316.9"/></g>
<polyline points="72.5,362.7 94.6,359.8 130.1,359.8 159.0,365.4 177.2,353.0 204.7,319.3 228.9,302.3 235.2,302.3 242.8,320.1 264.0,353.2 271.6,358.8 282.5,349.5 296.6,384.0 311.8,400.8 326.5,406.5 344.9,406.5 360.2,400.8 377.7,400.8 409.1,406.4 434.3,399.5 455.5,386.2" fill="none" stroke="#000" stroke-width="1"/>
<polyline points="72.5,191.1 105.3,204.3 120.9,233.7 159.0,255.0 223.8,205.6 231.7,202.3 244.8,212.4 254.2,240.4 282.0,255.0 292.8,296.5 412.4,268.5 455.5,236.5" fill="none" stroke="#000" stroke-width="1"/>
<g fill="none" stroke="#ff0000" stroke-width="1"><path d="M79.5 80.5h5l2 2v5l-2 2h-5l-2 -2v-5zM81.5 81v4"/><path d="M79.5 89.5h5l2 2v5l-2 2h-5l-2 -2v-5zM81.5 90v4"/></g>
<path d="M72 102.5H87M72 111.5H87M72 138.5H87M72 147.5H87" stroke="#000" stroke-width="1" fill="none"/>
<g fill="none" stroke="#0000ff" stroke-width="1"><path d="M81.5 116.5l5 5.5h-9.5zM81.5 116v5"/><path d="M81.5 125.5l5 5.5h-9.5zM81.5 125v5"/></g>
<g fill="#000" stroke="#000" stroke-width="0.3" shape-rendering="auto">
<text xml:space="preserve" text-anchor="middle" y="90.2" font-family="'Liberation Mono','DejaVu Sans Mono',monospace" font-size="11.7" ><tspan x="97.90 104.98 112.06 119.14 126.22 133.30 140.38 147.46">Noise BH</tspan></text>
<text xml:space="preserve" text-anchor="middle" y="99.1" font-family="'Liberation Mono','DejaVu Sans Mono',monospace" font-size="11.7" ><tspan x="97.90 104.98 112.06 119.14 126.22 133.30 140.38 147.46">Noise LH</tspan></text>
<text xml:space="preserve" text-anchor="middle" y="108.0" font-family="'Liberation Mono','DejaVu Sans Mono',monospace" font-size="11.7" ><tspan x="97.90 104.98 112.06 119.14 126.22 133.30 140.38 147.46 154.54">SLM.Z.STS</tspan><tspan font-family="'Liberation Sans','DejaVu Sans',sans-serif" font-size="11.2" x="161.62">2</tspan><tspan x="168.70 175.78 182.86 189.94 197.02"> BH  </tspan><tspan font-family="'Liberation Sans','DejaVu Sans',sans-serif" font-size="11.2" x="204.10 211.18 218.26 225.34">2004</tspan><tspan x="232.42">.</tspan><tspan font-family="'Liberation Sans','DejaVu Sans',sans-serif" font-size="11.2" x="239.50 246.58 253.66">095</tspan></text>
<text xml:space="preserve" text-anchor="middle" y="116.9" font-family="'Liberation Mono','DejaVu Sans Mono',monospace" font-size="11.7" ><tspan x="97.90 104.98 112.06 119.14 126.22">Noise</tspan></text>
<text xml:space="preserve" text-anchor="middle" y="125.8" font-family="'Liberation Mono','DejaVu Sans Mono',monospace" font-size="11.7" ><tspan x="97.90 104.98 112.06 119.14 126.22 133.30 140.38 147.46 154.54 161.62 168.70">Gnd Noise B</tspan></text>
<text xml:space="preserve" text-anchor="middle" y="134.7" font-family="'Liberation Mono','DejaVu Sans Mono',monospace" font-size="11.7" ><tspan x="97.90 104.98 112.06 119.14 126.22 133.30 140.38 147.46 154.54 161.62 168.70">Gnd Noise L</tspan></text>
<text xml:space="preserve" text-anchor="middle" y="143.6" font-family="'Liberation Mono','DejaVu Sans Mono',monospace" font-size="11.7" ><tspan x="97.90 104.98 112.06 119.14 126.22 133.30 140.38 147.46 154.54 161.62 168.70 175.78 182.86 189.94 197.02">LOW NOISE MODEL</tspan></text>
<text xml:space="preserve" text-anchor="middle" y="152.5" font-family="'Liberation Mono','DejaVu Sans Mono',monospace" font-size="11.7" ><tspan x="97.90 104.98 112.06 119.14 126.22 133.30 140.38 147.46 154.54 161.62 168.70 175.78 182.86 189.94 197.02 204.10">HIGH NOISE MODEL</tspan></text>
<text text-anchor="middle" font-family="'Liberation Sans','DejaVu Sans',sans-serif" font-size="20.5" stroke="#fff" stroke-width="0.5" x="69.1 83.0" y="458">10</text>
<text text-anchor="middle" font-family="'Liberation Sans','DejaVu Sans',sans-serif" font-size="14.5" stroke="#fff" stroke-width="0.25" x="95.0 104.0" y="447">-1</text>
<text text-anchor="middle" font-family="'Liberation Sans','DejaVu Sans',sans-serif" font-size="20.5" stroke="#fff" stroke-width="0.5" x="164.8 178.8" y="458">10</text>
<text text-anchor="middle" font-family="'Liberation Sans','DejaVu Sans',sans-serif" font-size="14.5" stroke="#fff" stroke-width="0.25" x="190.8" y="447">0</text>
<text text-anchor="middle" font-family="'Liberation Sans','DejaVu Sans',sans-serif" font-size="20.5" stroke="#fff" stroke-width="0.5" x="260.6 274.5" y="458">10</text>
<text text-anchor="middle" font-family="'Liberation Sans','DejaVu Sans',sans-serif" font-size="14.5" stroke="#fff" stroke-width="0.25" x="286.5" y="447">1</text>
<text text-anchor="middle" font-family="'Liberation Sans','DejaVu Sans',sans-serif" font-size="20.5" stroke="#fff" stroke-width="0.5" x="356.4 370.2" y="458">10</text>
<text text-anchor="middle" font-family="'Liberation Sans','DejaVu Sans',sans-serif" font-size="14.5" stroke="#fff" stroke-width="0.25" x="382.2" y="447">2</text>
<text text-anchor="middle" font-family="'Liberation Sans','DejaVu Sans',sans-serif" font-size="20.5" stroke="#fff" stroke-width="0.5" x="452.1 466.0" y="458">10</text>
<text text-anchor="middle" font-family="'Liberation Sans','DejaVu Sans',sans-serif" font-size="14.5" stroke="#fff" stroke-width="0.25" x="478.0" y="447">3</text>
<text xml:space="preserve" text-anchor="middle" y="479" font-family="'Liberation Mono','DejaVu Sans Mono',monospace" font-size="19" stroke="#fff" stroke-width="0.5"><tspan x="188.60 202.02 215.44 228.86 242.28 255.70 269.12 282.54 295.96 309.38 322.80 336.22">Period (sec)</tspan></text>
<text transform="translate(68,106.0) rotate(-90) scale(0.85,1)" text-anchor="middle" font-family="'Liberation Sans','DejaVu Sans',sans-serif" font-size="9" x="2.06 7.61 13.16 18.72 24.27 29.82" y="0">-40.00</text>
<text transform="translate(68,125.4) rotate(-90) scale(0.85,1)" text-anchor="middle" font-family="'Liberation Sans','DejaVu Sans',sans-serif" font-size="9" x="2.06 7.61 13.16 18.72 24.27 29.82" y="0">-60.00</text>
<text transform="translate(68,170.2) rotate(-90) scale(0.85,1)" text-anchor="middle" font-family="'Liberation Sans','DejaVu Sans',sans-serif" font-size="9" x="2.06 7.61 13.16 18.72 24.27 29.82" y="0">-80.00</text>
<text transform="translate(68,215.1) rotate(-90) scale(0.85,1)" text-anchor="middle" font-family="'Liberation Sans','DejaVu Sans',sans-serif" font-size="9" x="2.06 7.61 13.16 18.72 24.27 29.82 35.38" y="0">-100.00</text>
<text transform="translate(68,260.0) rotate(-90) scale(0.85,1)" text-anchor="middle" font-family="'Liberation Sans','DejaVu Sans',sans-serif" font-size="9" x="2.06 7.61 13.16 18.72 24.27 29.82 35.38" y="0">-120.00</text>
<text transform="translate(68,304.9) rotate(-90) scale(0.85,1)" text-anchor="middle" font-family="'Liberation Sans','DejaVu Sans',sans-serif" font-size="9" x="2.06 7.61 13.16 18.72 24.27 29.82 35.38" y="0">-140.00</text>
<text transform="translate(68,349.8) rotate(-90) scale(0.85,1)" text-anchor="middle" font-family="'Liberation Sans','DejaVu Sans',sans-serif" font-size="9" x="2.06 7.61 13.16 18.72 24.27 29.82 35.38" y="0">-160.00</text>
<text transform="translate(68,394.6) rotate(-90) scale(0.85,1)" text-anchor="middle" font-family="'Liberation Sans','DejaVu Sans',sans-serif" font-size="9" x="2.06 7.61 13.16 18.72 24.27 29.82 35.38" y="0">-180.00</text>
<text transform="translate(68,434.0) rotate(-90) scale(0.85,1)" text-anchor="middle" font-family="'Liberation Sans','DejaVu Sans',sans-serif" font-size="9" x="2.06 7.61 13.16 18.72 24.27 29.82 35.38" y="0">-200.00</text>
<g transform="translate(56,394.2) rotate(-90) scale(0.87,1)"><text xml:space="preserve" text-anchor="middle" y="0" font-family="'Liberation Mono','DejaVu Sans Mono',monospace" font-size="12" ><tspan x="3.45 10.65 17.85 25.05 32.25 39.45 46.66 53.86 61.06 68.26 75.46 82.66 89.86 97.06 104.26 111.47 118.67 125.87 133.07 140.27 147.47 154.67 161.87 169.07">Power Spectral Density (</tspan><tspan font-family="'Liberation Sans','DejaVu Sans',sans-serif" font-size="11.5" x="176.28 183.48">10</tspan><tspan x="190.68 197.88 205.08 212.28 219.48 226.68 233.89 241.09">*LOG M**</tspan><tspan font-family="'Liberation Sans','DejaVu Sans',sans-serif" font-size="11.5" x="248.29">2</tspan><tspan x="255.49 262.69 269.89 277.09">/S**</tspan><tspan font-family="'Liberation Sans','DejaVu Sans',sans-serif" font-size="11.5" x="284.29">4</tspan><tspan x="291.49 298.70 305.90 313.10 320.30 327.50 334.70">/Hz)  *</tspan><tspan font-family="'Liberation Sans','DejaVu Sans',sans-serif" font-size="11.5" x="341.90 349.10">10</tspan></text></g>
<text transform="translate(50.5,86) rotate(-90)" font-family="'Liberation Sans','DejaVu Sans',sans-serif" font-size="7">0</text>
</g>
</svg>
</body></html>
